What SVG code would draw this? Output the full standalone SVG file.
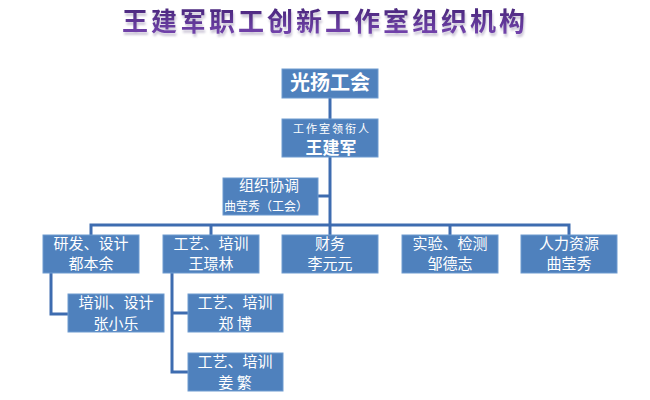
<svg xmlns="http://www.w3.org/2000/svg" width="650" height="400" viewBox="0 0 650 400">
<defs>
<style>
.box{fill:#4f81bd;stroke:#6f9bd0;stroke-width:1}
.t{fill:#ffffff;font-family:"Noto Sans CJK SC","Liberation Sans",sans-serif;text-anchor:middle}
.m{font-size:15px}
.c{fill:none;stroke:#3e6cb0;stroke-width:3}
</style>
<linearGradient id="tg" x1="0" y1="0" x2="0" y2="1">
<stop offset="0" stop-color="#3f2070"/>
<stop offset="1" stop-color="#7a48b4"/>
</linearGradient>
<filter id="sh" x="-10%" y="-50%" width="120%" height="200%">
<feGaussianBlur in="SourceAlpha" stdDeviation="1.2"/>
<feOffset dx="1" dy="3" result="b"/>
<feFlood flood-color="#9a8fb0" flood-opacity="0.5"/>
<feComposite in2="b" operator="in"/>
<feMerge><feMergeNode/><feMergeNode in="SourceGraphic"/></feMerge>
</filter>
</defs>
<rect width="650" height="400" fill="#ffffff"/>
<text x="325" y="31" fill="url(#tg)" filter="url(#sh)" font-family="Noto Sans CJK SC,sans-serif" font-weight="bold" font-size="26" text-anchor="middle" letter-spacing="3">王建军职工创新工作室组织机构</text>
<g id="connectors">
<line class="c" x1="330" y1="98" x2="330" y2="119"/>
<line class="c" x1="330" y1="157" x2="330" y2="235"/>
<line class="c" x1="318" y1="196" x2="330" y2="196"/>
<polyline class="c" points="91,235 91,225 569,225 569,235"/>
<line class="c" x1="211" y1="225" x2="211" y2="235"/>
<line class="c" x1="450" y1="225" x2="450" y2="235"/>
<polyline class="c" points="51,273 51,314 68,314"/>
<polyline class="c" points="172,273 172,372 188,372"/>
<line class="c" x1="172" y1="313" x2="188" y2="313"/>
</g>
<g id="n-union"><rect class="box" x="282" y="69" width="96" height="29"/><text class="t" x="330" y="90" font-size="20" font-weight="bold">光扬工会</text></g>
<g id="n-lead"><rect class="box" x="282" y="119" width="96" height="38"/><text class="t" x="332" y="133" font-size="11" letter-spacing="2">工作室领衔人</text><text class="t" x="331" y="154" font-size="17" font-weight="bold">王建军</text></g>
<g id="n-coord"><rect class="box" x="223" y="178" width="95" height="37"/><text class="t m" x="269" y="191">组织协调</text><text class="t" x="266" y="211" font-size="12">曲莹秀（工会）</text></g>
<g id="n-rd"><rect class="box" x="43" y="235" width="96" height="38"/><text class="t m" x="91" y="249">研发、设计</text><text class="t m" x="91" y="269">都本余</text></g>
<g id="n-craft"><rect class="box" x="163" y="235" width="96" height="38"/><text class="t m" x="211" y="249">工艺、培训</text><text class="t m" x="211" y="269">王璟林</text></g>
<g id="n-fin"><rect class="box" x="282" y="235" width="96" height="38"/><text class="t m" x="330" y="249">财务</text><text class="t m" x="330" y="269">李元元</text></g>
<g id="n-test"><rect class="box" x="402" y="235" width="96" height="38"/><text class="t m" x="450" y="249">实验、检测</text><text class="t m" x="450" y="269">邹德志</text></g>
<g id="n-hr"><rect class="box" x="521" y="235" width="96" height="38"/><text class="t m" x="569" y="249">人力资源</text><text class="t m" x="569" y="269">曲莹秀</text></g>
<g id="n-zhang"><rect class="box" x="68" y="294" width="96" height="38"/><text class="t m" x="116" y="308">培训、设计</text><text class="t m" x="116" y="329">张小乐</text></g>
<g id="n-zheng"><rect class="box" x="188" y="294" width="95" height="38"/><text class="t m" x="235" y="308">工艺、培训</text><text class="t m" x="235" y="329">郑 博</text></g>
<g id="n-jiang"><rect class="box" x="188" y="353" width="95" height="38"/><text class="t m" x="235" y="367">工艺、培训</text><text class="t m" x="235" y="388">姜 繁</text></g>
</svg>
